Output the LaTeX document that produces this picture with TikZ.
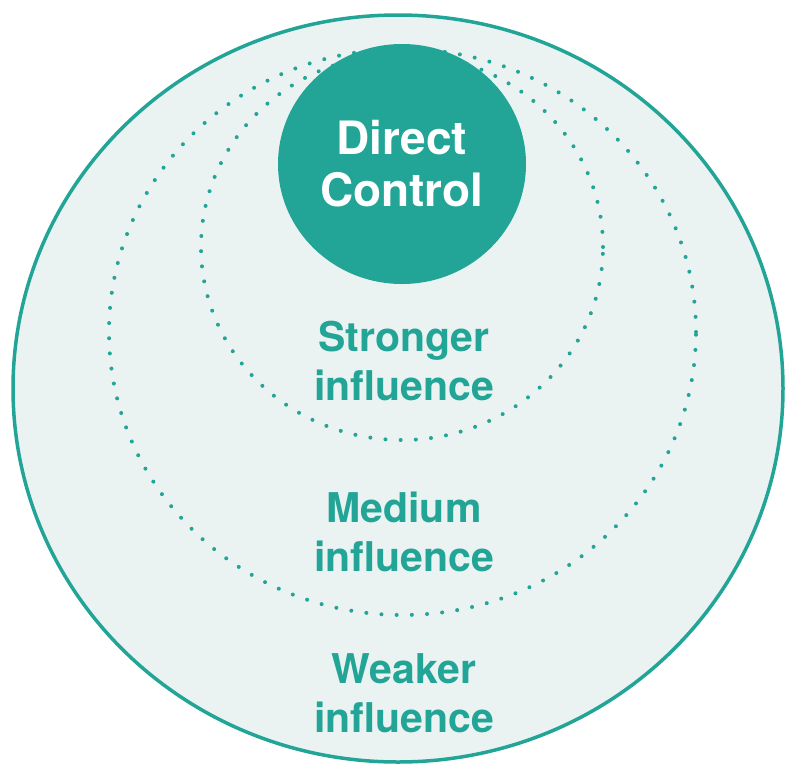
\documentclass[tikz,border=0pt]{standalone}
\usepackage{fontspec}
\setmainfont{TeX Gyre Heros}
\usetikzlibrary{shapes.geometric}
\definecolor{teal}{HTML}{22A596}
\definecolor{paleteal}{HTML}{EBF3F2}
\tikzset{
  ring/.style={ellipse, draw=teal, line width=4pt, line cap=round,
    dash pattern=on 0pt off 15.2pt, inner sep=0pt},
  level/.style={text=teal, font=\bfseries\fontsize{41}{48.5}\selectfont,
    align=center, anchor=base, inner sep=0pt},
}
\begin{document}
\begin{tikzpicture}[x=1pt, y=-1pt]
  \useasboundingbox (0,0) rectangle (785,764);
  % outer zone: weaker influence
  \node[ellipse, draw=teal, fill=paleteal, line width=3.5pt, inner sep=0pt,
        minimum width=770, minimum height=747] (outer) at (398,388.5) {};
  % dotted boundaries of medium and stronger influence
  \node[ring, minimum width=587, minimum height=566] (medium) at (402.5,332) {};
  \node[ring, minimum width=402, minimum height=386] (strong) at (402,247) {};
  % core: direct control
  \node[ellipse, fill=teal, inner sep=0pt, minimum width=248, minimum height=240,
        text=white, font=\bfseries\fontsize{46}{52}\selectfont, align=center]
        (direct) at (402,164) {Direct\\Control};
  % labels of the zones (placed by the baseline of their last line)
  \node[level] (lstrong) at (404,400) {Stronger\\influence};
  \node[level] (lmedium) at (404,571) {Medium\\influence};
  \node[level] (lweak)   at (404,732) {Weaker\\influence};
\end{tikzpicture}
\end{document}
